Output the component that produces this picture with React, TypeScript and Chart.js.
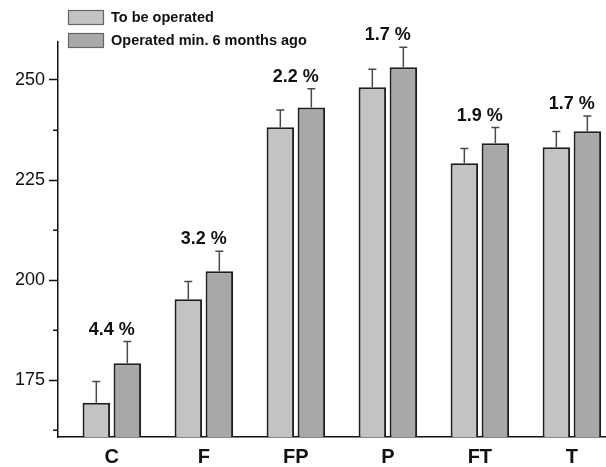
import { useEffect, useRef } from 'react';
import { Chart, registerables } from 'chart.js';

Chart.register(...registerables);

const categories = ['C', 'F', 'FP', 'P', 'FT', 'T'];
const seriesNames = ['To be operated', 'Operated min. 6 months ago'];
const toBeOperated = [169.3, 195.2, 238.2, 248.2, 229.2, 233.2];
const toBeOperatedErr = [5.3, 4.4, 4.3, 4.5, 3.7, 3.9];
const operated = [179.2, 202.2, 243.1, 253.2, 234.2, 237.2];
const operatedErr = [5.4, 5.0, 4.7, 5.0, 3.9, 3.8];
const percentLabels = ['4.4 %', '3.2 %', '2.2 %', '1.7 %', '1.9 %', '1.7 %'];
const yTickValues = [162.5, 175, 187.5, 200, 212.5, 225, 237.5, 250];
const yLabelValues = [175, 200, 225, 250];

const FONT = '"Liberation Sans", Arial, sans-serif';
const LIGHT = '#c3c3c3';
const DARK = '#a8a8a8';
const EDGE = '#1e1e1e';

const overlay = {
  id: 'overlay',
  afterDatasetsDraw(chart: any) {
    const ctx = chart.ctx as CanvasRenderingContext2D;
    const xs = chart.scales.x;
    const ys = chart.scales.y;
    const errs = [toBeOperatedErr, operatedErr];
    const vals = [toBeOperated, operated];
    ctx.save();
    ctx.strokeStyle = '#4a4a4a';
    ctx.lineWidth = 1.5;
    for (let d = 0; d < 2; d++) {
      const meta = chart.getDatasetMeta(d);
      meta.data.forEach((el: any, i: number) => {
        const top = ys.getPixelForValue(vals[d][i] + errs[d][i]);
        ctx.beginPath();
        ctx.moveTo(el.x, el.y);
        ctx.lineTo(el.x, top);
        ctx.moveTo(el.x - 4, top);
        ctx.lineTo(el.x + 4, top);
        ctx.stroke();
      });
    }
    ctx.fillStyle = '#111';
    ctx.font = `bold 18px ${FONT}`;
    ctx.textAlign = 'center';
    ctx.textBaseline = 'alphabetic';
    percentLabels.forEach((t, i) => {
      const x = xs.getPixelForValue(i);
      const y = ys.getPixelForValue(operated[i] + operatedErr[i]) - 7;
      ctx.fillText(t, x, y);
    });
    ctx.restore();
  },
  afterDraw(chart: any) {
    const ctx = chart.ctx as CanvasRenderingContext2D;
    const ys = chart.scales.y;
    const left = chart.chartArea.left;
    ctx.save();
    ctx.strokeStyle = '#111';
    ctx.lineWidth = 1.5;
    yTickValues.filter((v) => !yLabelValues.includes(v)).forEach((v) => {
      const y = Math.round(ys.getPixelForValue(v)) + 0.25;
      ctx.beginPath();
      ctx.moveTo(left - 5, y);
      ctx.lineTo(left, y);
      ctx.stroke();
    });
    const colors = [LIGHT, DARK];
    chart.data.datasets.forEach((ds: any, i: number) => {
      const bx = 68;
      const by = 10 + i * 23;
      ctx.fillStyle = colors[i];
      ctx.fillRect(bx, by, 36, 15);
      ctx.strokeStyle = '#666';
      ctx.lineWidth = 1.2;
      ctx.strokeRect(bx + 0.5, by + 0.5, 35, 14);
      ctx.fillStyle = '#111';
      ctx.font = `bold 14.5px ${FONT}`;
      ctx.textAlign = 'left';
      ctx.textBaseline = 'middle';
      ctx.fillText(ds.label, 111, by + 8);
    });
    ctx.restore();
  },
};

export default function App() {
  const ref = useRef<HTMLCanvasElement>(null);
  useEffect(() => {
    const chart = new Chart(ref.current as HTMLCanvasElement, {
      type: 'bar',
      data: {
        datasets: [
          {
            label: seriesNames[0],
            data: toBeOperated.map((v, i) => ({ x: i, y: v })),
            backgroundColor: LIGHT,
            borderColor: EDGE,
            borderWidth: 2,
            borderSkipped: 'start',
            categoryPercentage: 0.674,
            barPercentage: 0.887,
          },
          {
            label: seriesNames[1],
            data: operated.map((v, i) => ({ x: i, y: v })),
            backgroundColor: DARK,
            borderColor: EDGE,
            borderWidth: 2,
            borderSkipped: 'start',
            categoryPercentage: 0.674,
            barPercentage: 0.887,
          },
        ],
      } as any,
      options: {
        responsive: false,
        animation: false,
        layout: { padding: { top: 42, left: 0, right: 10, bottom: 12 } },
        plugins: { legend: { display: false }, tooltip: { enabled: false } },
        scales: {
          x: {
            type: 'linear',
            offset: false,
            min: -0.585,
            max: 5.632,
            grid: { display: false },
            border: { display: true, color: '#111', width: 1.5 },
            afterBuildTicks: (s: any) => {
              s.ticks = categories.map((_, i) => ({ value: i }));
            },
            ticks: {
              autoSkip: false,
              maxRotation: 0,
              padding: 0,
              color: '#111',
              font: { family: FONT, size: 20, weight: 'bold' },
              callback: (v: any) => categories[v as number] ?? '',
            },
          },
          y: {
            min: 160.75,
            max: 259.5,
            afterBuildTicks: (s: any) => {
              s.ticks = yTickValues.map((v) => ({ value: v }));
            },
            afterFit: (s: any) => {
              s.width = 58;
            },
            grid: {
              drawOnChartArea: false,
              drawTicks: true,
              tickLength: 9,
              tickWidth: 1.5,
              tickColor: (c: any) =>
                c.tick && yLabelValues.includes(c.tick.value) ? '#111' : 'rgba(0,0,0,0)',
            },
            border: { display: true, color: '#111', width: 1.5 },
            ticks: {
              padding: 4,
              color: '#111',
              font: { family: FONT, size: 18 },
              callback: (v: any) => (yLabelValues.includes(v as number) ? String(v) : ''),
            },
          },
        },
      } as any,
      plugins: [overlay],
    });
    return () => chart.destroy();
  }, []);

  return (
    <div
      style={{
        position: 'fixed',
        left: 0,
        top: 0,
        width: 606,
        height: 467,
        overflow: 'hidden',
        background: '#fff',
      }}
    >
      <canvas ref={ref} width={640} height={481} style={{ display: 'block' }} />
    </div>
  );
}
